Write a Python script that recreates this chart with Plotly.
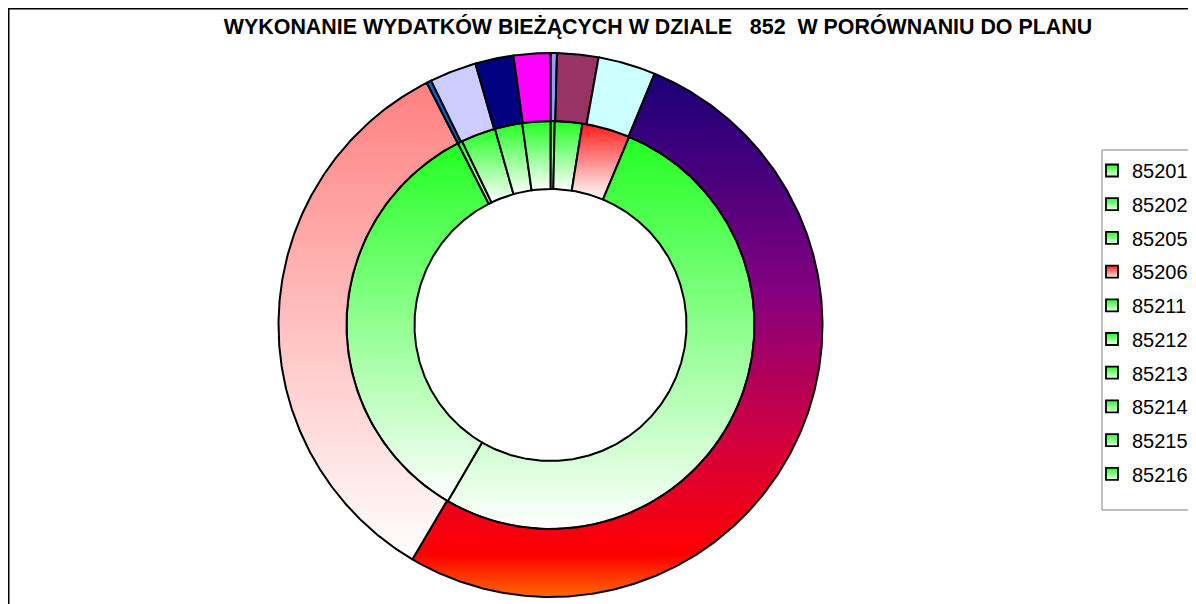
import numpy as np
import plotly.graph_objects as go

# rozdziały działu 852
categories = ["85201", "85202", "85205", "85206", "85211",
              "85212", "85213", "85214", "85215", "85216"]

# wewnętrzny pierścień - plan (% udziału)
plan = [0.33, 2.17, 0.0, 3.80, 52.10, 34.10, 0.36, 2.75, 2.17, 2.22]

# zewnętrzny pierścień - wykonanie (% udziału)
wykonanie = [0.38, 2.45, 0.0, 3.42, 52.20, 34.00, 0.28, 2.78, 2.28, 2.17]

outer_colors = ["#9999FF", "#993366", "#FFFFCC", "#CCFFFF", "#660066",
                "#FF8080", "#0066CC", "#CCCCFF", "#000080", "#FF00FF"]

outer_gradients = {
    "85211": [[0.0, "#FF6A00"], [0.08, "#FF0000"], [0.3, "#D2003F"],
              [0.58, "#85007F"], [0.8, "#4A007C"], [1.0, "#1A0078"]],
    "85212": [[0.0, "#FFFFFF"], [1.0, "#FF8080"]],
}

inner_top = ["#22FF22", "#22FF22", "#22FF22", "#FF1A1A", "#22FF22",
             "#22FF22", "#22FF22", "#22FF22", "#22FF22", "#22FF22"]

W, H = 1196, 604
OFF = 8          # body margin strony html
CX, CY = 550.5 - OFF, 325 - OFF
R = 272.0


def ring_slice(a0, a1, r_in, r_out):
    n = max(int((a1 - a0) * 2), 2)
    t = np.radians(np.linspace(a0, a1, n))
    tr = t[::-1]
    x = np.concatenate([r_out * np.sin(t), r_in * np.sin(tr), [r_out * np.sin(t[0])]])
    y = np.concatenate([r_out * np.cos(t), r_in * np.cos(tr), [r_out * np.cos(t[0])]])
    return x, y


def angles(values):
    v = np.array(values, dtype=float)
    edges = np.concatenate([[0.0], np.cumsum(v)]) / v.sum() * 360
    return edges[:-1], edges[1:]


fig = go.Figure()

# pierścień wewnętrzny
starts, ends = angles(plan)
for i, cat in enumerate(categories):
    if plan[i] <= 0:
        continue
    x, y = ring_slice(starts[i], ends[i], 0.5, 0.75)
    fig.add_trace(
        go.Scatter(
            x=x, y=y,
            mode="lines",
            fill="toself",
            fillcolor=inner_top[i],
            fillgradient=dict(
                type="vertical",
                colorscale=[[0, "#FFFFFF"], [1, inner_top[i]]]
            ),
            line=dict(color="black", width=2),
            showlegend=False,
            hoverinfo="skip"
        )
    )

# pierścień zewnętrzny
starts, ends = angles(wykonanie)
for i, cat in enumerate(categories):
    if wykonanie[i] <= 0:
        continue
    x, y = ring_slice(starts[i], ends[i], 0.75, 1.0)
    trace = go.Scatter(
        x=x, y=y,
        mode="lines",
        fill="toself",
        fillcolor=outer_colors[i],
        line=dict(color="black", width=2),
        showlegend=False,
        hoverinfo="skip"
    )
    if cat in outer_gradients:
        trace.fillgradient = dict(type="vertical", colorscale=outer_gradients[cat])
    fig.add_trace(trace)

# legenda
for i, cat in enumerate(categories):
    fig.add_trace(
        go.Scatter(
            x=[None], y=[None],
            mode="markers",
            name=cat,
            legendgroup=cat,
            marker=dict(
                symbol="square",
                size=12,
                color=inner_top[i],
                gradient=dict(type="vertical", color="#F0FFF0" if inner_top[i] == "#22FF22" else "#FFF0F0"),
                line=dict(color="black", width=1.8)
            )
        )
    )

fig.update_xaxes(
    range=[-CX / R, (W - CX) / R],
    visible=False,
    fixedrange=True
)
fig.update_yaxes(
    range=[-(H - CY) / R, CY / R],
    visible=False,
    fixedrange=True
)

fig.update_layout(
    width=W,
    height=H,
    margin=dict(l=0, r=0, t=0, b=0),
    paper_bgcolor="white",
    plot_bgcolor="white",
    title=dict(
        text="WYKONANIE WYDATKÓW BIEŻĄCYCH W DZIALE\u00a0\u00a0\u00a0852\u00a0\u00a0W PORÓWNANIU DO PLANU",
        x=(658 - OFF) / W,
        xanchor="center",
        xref="paper",
        y=1 - (27 - OFF) / H,
        yanchor="middle",
        font=dict(family="Liberation Sans, Arial", size=21.4, color="black", weight="bold")
    ),
    legend=dict(
        x=(1092 - OFF) / W,
        xanchor="left",
        y=1 - (151 - OFF) / H,
        yanchor="top",
        traceorder="grouped",
        tracegroupgap=4.7,
        borderwidth=0,
        bgcolor="rgba(0,0,0,0)",
        font=dict(family="Liberation Sans, Arial", size=20, color="black")
    ),
    shapes=[
        # ramka wykresu
        dict(
            type="rect",
            xref="paper", yref="paper",
            x0=0.5 / W, x1=1.05,
            y0=-0.05, y1=1 - 0.5 / H,
            line=dict(color="black", width=2)
        ),
        # ramka legendy
        dict(
            type="rect",
            xref="paper", yref="paper",
            x0=(1102 - OFF) / W, x1=1.05,
            y0=1 - (510 - OFF) / H, y1=1 - (150 - OFF) / H,
            line=dict(color="#808080", width=1)
        )
    ]
)

fig.write_html("out.html")
